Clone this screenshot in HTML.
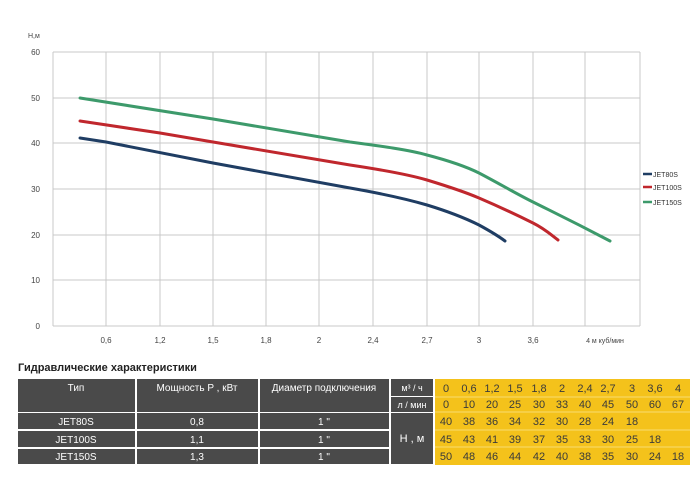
<!DOCTYPE html>
<html><head><meta charset="utf-8"><style>
body{margin:0;background:#fff;}
svg{display:block;font-family:"Liberation Sans",sans-serif;}
</style></head><body>
<svg width="700" height="500" viewBox="0 0 700 500">
<g stroke="#c8c8c8" stroke-width="1" fill="none">
<line x1="53" y1="52" x2="640" y2="52"/><line x1="53" y1="98" x2="640" y2="98"/>
<line x1="53" y1="143" x2="640" y2="143"/><line x1="53" y1="189" x2="640" y2="189"/>
<line x1="53" y1="235" x2="640" y2="235"/><line x1="53" y1="280" x2="640" y2="280"/>
<line x1="53" y1="326" x2="640" y2="326"/>
<line x1="53" y1="52" x2="53" y2="326"/><line x1="106" y1="52" x2="106" y2="326"/>
<line x1="160" y1="52" x2="160" y2="326"/><line x1="213" y1="52" x2="213" y2="326"/>
<line x1="266" y1="52" x2="266" y2="326"/><line x1="319" y1="52" x2="319" y2="326"/>
<line x1="373" y1="52" x2="373" y2="326"/><line x1="427" y1="52" x2="427" y2="326"/>
<line x1="479" y1="52" x2="479" y2="326"/><line x1="533" y1="52" x2="533" y2="326"/>
<line x1="585" y1="52" x2="585" y2="326"/><line x1="640" y1="52" x2="640" y2="326"/>
</g>
<g font-size="8" fill="#444" text-anchor="end">
<text x="40" y="55">60</text><text x="40" y="101">50</text><text x="40" y="146">40</text>
<text x="40" y="192">30</text><text x="40" y="238">20</text><text x="40" y="283">10</text><text x="40" y="329">0</text>
</g>
<text x="28" y="38" font-size="7" fill="#444">H,м</text>
<g font-size="8" fill="#444" text-anchor="middle">
<text x="106" y="343">0,6</text><text x="160" y="343">1,2</text><text x="213" y="343">1,5</text>
<text x="266" y="343">1,8</text><text x="319" y="343">2</text><text x="373" y="343">2,4</text>
<text x="427" y="343">2,7</text><text x="479" y="343">3</text><text x="533" y="343">3,6</text>
<text x="605" y="343" font-size="7">4 м куб/мин</text>
</g>
<g fill="none" stroke-width="3" stroke-linecap="round">
<path d="M80,98 L213,119 L350,142 C380,146 410,150 427,155 C450,161 465,166 479,173 C500,184 515,193 533,202 C555,213 570,220 610,241" stroke="#3d9a6b"/>
<path d="M80,121 L160,133 L213,142 L350,165 C390,171 410,175 427,180 C450,187 465,192 479,198 C500,207 515,214 533,223 C545,229 550,234 558,240" stroke="#c0272d"/>
<path d="M80,138 L106,142 L213,163 L350,188 C390,195 410,200 427,205 C450,212 465,218 479,225 C490,231 497,235 505,241" stroke="#1f3d63"/>
</g>
<g font-size="7" fill="#333">
<line x1="643" y1="174" x2="652" y2="174" stroke="#1f3d63" stroke-width="2.5"/><text x="653" y="177">JET80S</text>
<line x1="643" y1="187" x2="652" y2="187" stroke="#c0272d" stroke-width="2.5"/><text x="653" y="190">JET100S</text>
<line x1="643" y1="202" x2="652" y2="202" stroke="#3d9a6b" stroke-width="2.5"/><text x="653" y="205">JET150S</text>
</g>
<text x="18" y="371" font-size="11" font-weight="bold" fill="#222">Гидравлические характеристики</text>
<g fill="#4a4a4a">
<rect x="18" y="379" width="117" height="33"/><rect x="137" y="379" width="121" height="33"/>
<rect x="260" y="379" width="129" height="33"/>
<rect x="391" y="379" width="42" height="17"/><rect x="391" y="397" width="42" height="15"/>
<rect x="18" y="413" width="117" height="16"/><rect x="137" y="413" width="121" height="16"/><rect x="260" y="413" width="129" height="16"/>
<rect x="18" y="431" width="117" height="16"/><rect x="137" y="431" width="121" height="16"/><rect x="260" y="431" width="129" height="16"/>
<rect x="18" y="449" width="117" height="15"/><rect x="137" y="449" width="121" height="15"/><rect x="260" y="449" width="129" height="15"/>
<rect x="391" y="413" width="42" height="51"/>
</g>
<g fill="#fff" font-size="10" text-anchor="middle">
<text x="76" y="391">Тип</text><text x="197" y="391">Мощность P , кВт</text><text x="324" y="391">Диаметр подключения</text>
<text x="412" y="391" font-size="9">м³ / ч</text><text x="412" y="408" font-size="9">л / мин</text>
<text x="76" y="425">JET80S</text><text x="197" y="425">0,8</text><text x="324" y="425">1 "</text>
<text x="76" y="443">JET100S</text><text x="197" y="443">1,1</text><text x="324" y="443">1 "</text>
<text x="76" y="460">JET150S</text><text x="197" y="460">1,3</text><text x="324" y="460">1 "</text>
<text x="412" y="442" font-size="11">Н , м</text>
</g>
<rect x="435" y="379" width="255" height="86" fill="#f4c21b"/>
<g stroke="#f8dc70" stroke-width="1">
<line x1="435" y1="397" x2="690" y2="397"/><line x1="435" y1="412" x2="690" y2="412"/>
<line x1="435" y1="430" x2="690" y2="430"/><line x1="435" y1="447" x2="690" y2="447"/>
</g>
<g font-size="11" fill="#3a3a3a" text-anchor="middle" id="t"></g>
<g font-size="11" fill="#3a3a3a" text-anchor="middle">
<text x="446" y="392">0</text><text x="469" y="392">0,6</text><text x="492" y="392">1,2</text><text x="515" y="392">1,5</text><text x="539" y="392">1,8</text><text x="562" y="392">2</text><text x="585" y="392">2,4</text><text x="608" y="392">2,7</text><text x="632" y="392">3</text><text x="655" y="392">3,6</text><text x="678" y="392">4</text>
<text x="446" y="408">0</text><text x="469" y="408">10</text><text x="492" y="408">20</text><text x="515" y="408">25</text><text x="539" y="408">30</text><text x="562" y="408">33</text><text x="585" y="408">40</text><text x="608" y="408">45</text><text x="632" y="408">50</text><text x="655" y="408">60</text><text x="678" y="408">67</text>
<text x="446" y="425">40</text><text x="469" y="425">38</text><text x="492" y="425">36</text><text x="515" y="425">34</text><text x="539" y="425">32</text><text x="562" y="425">30</text><text x="585" y="425">28</text><text x="608" y="425">24</text><text x="632" y="425">18</text>
<text x="446" y="443">45</text><text x="469" y="443">43</text><text x="492" y="443">41</text><text x="515" y="443">39</text><text x="539" y="443">37</text><text x="562" y="443">35</text><text x="585" y="443">33</text><text x="608" y="443">30</text><text x="632" y="443">25</text><text x="655" y="443">18</text>
<text x="446" y="460">50</text><text x="469" y="460">48</text><text x="492" y="460">46</text><text x="515" y="460">44</text><text x="539" y="460">42</text><text x="562" y="460">40</text><text x="585" y="460">38</text><text x="608" y="460">35</text><text x="632" y="460">30</text><text x="655" y="460">24</text><text x="678" y="460">18</text>
</g>
</svg>
</body></html>
